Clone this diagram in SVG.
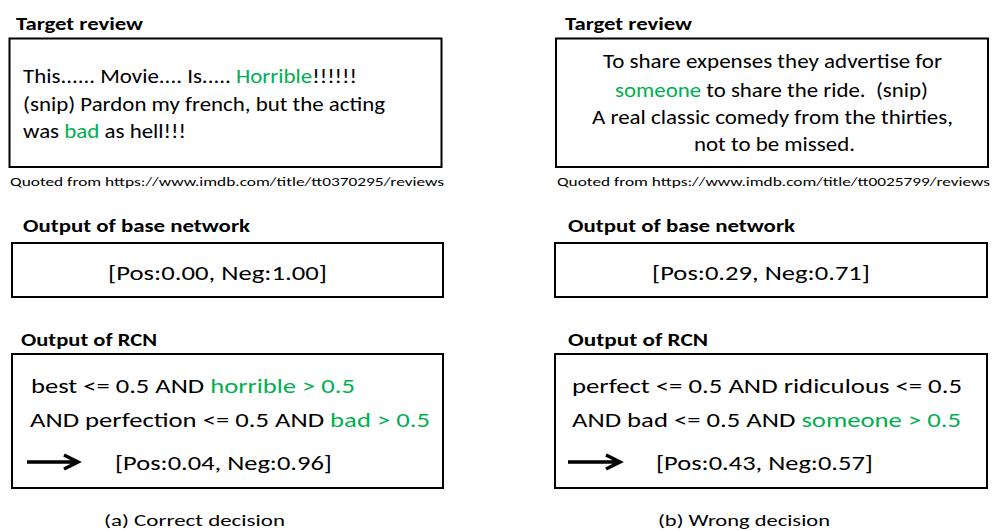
<svg xmlns="http://www.w3.org/2000/svg" width="992" height="531" viewBox="0 0 992 531">
<style>
text{font-family:Carlito,Lato,"Liberation Sans",sans-serif;fill:#000}
.t{font-size:18px;font-weight:bold}
.m{font-size:21px}
.f{font-size:13px}
.c{font-size:17px}
.g{fill:#00B050}
.box{fill:#fff;stroke:#000;stroke-width:2}
.arr{fill:none;stroke:#000;stroke-width:3.5;stroke-linecap:butt}
</style>
<rect width="992" height="531" fill="#fff"/>
<g id="left-review">
<text class="t" x="16" y="29.5" textLength="127" lengthAdjust="spacingAndGlyphs">Target review</text>
<rect class="box" x="9.5" y="38.5" width="432" height="128.5"/>
<text class="m" x="23" y="83" textLength="334" lengthAdjust="spacingAndGlyphs">This...... Movie.... Is..... <tspan class="g">Horrible</tspan>!!!!!!</text>
<text class="m" x="23" y="110.5" textLength="362" lengthAdjust="spacingAndGlyphs">(snip) Pardon my french, but the acting</text>
<text class="m" x="23" y="137.5" textLength="163" lengthAdjust="spacingAndGlyphs">was <tspan class="g">bad</tspan> as hell!!!</text>
<text class="f" x="10" y="186" textLength="434" lengthAdjust="spacingAndGlyphs">Quoted from https://www.imdb.com/title/tt0370295/reviews</text>
</g>
<g id="left-base">
<text class="t" x="23" y="232" textLength="227" lengthAdjust="spacingAndGlyphs">Output of base network</text>
<rect class="box" x="12" y="243" width="431" height="54"/>
<text class="m" x="108" y="279.5" textLength="219" lengthAdjust="spacingAndGlyphs">[Pos:0.00, Neg:1.00]</text>
</g>
<g id="left-rcn">
<text class="t" x="21" y="346" textLength="136" lengthAdjust="spacingAndGlyphs">Output of RCN</text>
<rect class="box" x="12" y="354" width="431" height="134"/>
<text class="m" x="31" y="393" textLength="324" lengthAdjust="spacingAndGlyphs">best &lt;= 0.5 AND <tspan class="g">horrible &gt; 0.5</tspan></text>
<text class="m" x="30" y="427" textLength="400" lengthAdjust="spacingAndGlyphs">AND perfection &lt;= 0.5 AND <tspan class="g">bad &gt; 0.5</tspan></text>
<text class="m" x="115" y="470" textLength="217" lengthAdjust="spacingAndGlyphs">[Pos:0.04, Neg:0.96]</text>
<text class="c" x="104" y="525.5" textLength="181" lengthAdjust="spacingAndGlyphs">(a) Correct decision</text>
</g>
<g id="right-review">
<text class="t" x="565" y="29.5" textLength="127" lengthAdjust="spacingAndGlyphs">Target review</text>
<rect class="box" x="556" y="38.5" width="432" height="128.5"/>
<text class="m" x="772.5" y="68.3" text-anchor="middle" textLength="339" lengthAdjust="spacingAndGlyphs">To share expenses they advertise for</text>
<text class="m" x="771.5" y="96.5" text-anchor="middle" textLength="313" lengthAdjust="spacingAndGlyphs"><tspan class="g">someone</tspan> to share the ride.&#160; (snip)</text>
<text class="m" x="772.5" y="123.5" text-anchor="middle" textLength="361" lengthAdjust="spacingAndGlyphs">A real classic comedy from the thirties,</text>
<text class="m" x="774.5" y="150.8" text-anchor="middle" textLength="161" lengthAdjust="spacingAndGlyphs">not to be missed.</text>
<text class="f" x="557" y="186" textLength="433" lengthAdjust="spacingAndGlyphs">Quoted from https://www.imdb.com/title/tt0025799/reviews</text>
</g>
<g id="right-base">
<text class="t" x="568" y="232" textLength="227" lengthAdjust="spacingAndGlyphs">Output of base network</text>
<rect class="box" x="555" y="243" width="432" height="54"/>
<text class="m" x="652" y="279.5" textLength="218" lengthAdjust="spacingAndGlyphs">[Pos:0.29, Neg:0.71]</text>
</g>
<g id="right-rcn">
<text class="t" x="568" y="346" textLength="140" lengthAdjust="spacingAndGlyphs">Output of RCN</text>
<rect class="box" x="555" y="354" width="432" height="134"/>
<text class="m" x="572" y="393" textLength="390" lengthAdjust="spacingAndGlyphs">perfect &lt;= 0.5 AND ridiculous &lt;= 0.5</text>
<text class="m" x="572" y="427" textLength="389" lengthAdjust="spacingAndGlyphs">AND bad &lt;= 0.5 AND <tspan class="g">someone &gt; 0.5</tspan></text>
<text class="m" x="656" y="470" textLength="217" lengthAdjust="spacingAndGlyphs">[Pos:0.43, Neg:0.57]</text>
<text class="c" x="658" y="525.5" textLength="172" lengthAdjust="spacingAndGlyphs">(b) Wrong decision</text>
</g>
<g id="connectors">
<path class="arr" d="M27 462H76M64 455L78 462L64 469"/>
<path class="arr" d="M568 462H618M606 455L620 462L606 469"/>
</g>
</svg>
